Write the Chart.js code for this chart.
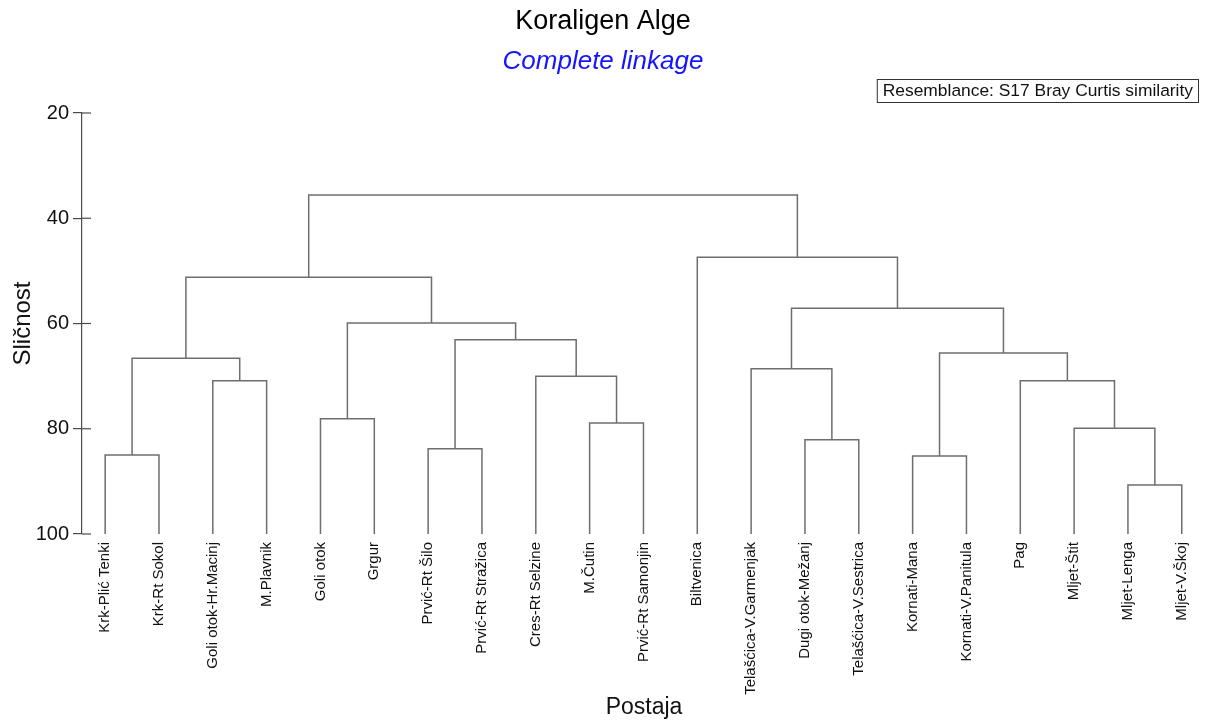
<!DOCTYPE html>
<html>
<head>
<meta charset="utf-8">
<title>Koraligen Alge</title>
<script src="https://cdn.jsdelivr.net/npm/chart.js@4/dist/chart.umd.min.js"></script>
<style>
  html, body { margin: 0; padding: 0; background: #fff; }
  #wrap { width: 1206px; height: 722px; }
</style>
</head>
<body>
<div id="wrap"><canvas id="dendro" width="1206" height="722"></canvas></div>
<script>
// --- data: leaf order, merges (hclust style: negative = leaf, positive = earlier merge row) ---
const leaves = [
  'Krk-Plić Tenki', 'Krk-Rt Sokol', 'Goli otok-Hr.Macinj', 'M.Plavnik', 'Goli otok', 'Grgur',
  'Prvić-Rt Šilo', 'Prvić-Rt Stražica', 'Cres-Rt Selzine', 'M.Čutin', 'Prvić-Rt Samonjin',
  'Biltvenica', 'Telašćica-V.Garmenjak', 'Dugi otok-Mežanj', 'Telašćica-V.Sestrica',
  'Kornati-Mana', 'Kornati-V.Panitula', 'Pag', 'Mljet-Štit', 'Mljet-Lenga', 'Mljet-V.Škoj'
];
const mergeLeft   = [-20, -16, -1, -7, -14, -19, -10, -5, -3, -18, -9, -13, 3, 2, 4, 8, 12, 13, -12, 18];
const mergeRight  = [-21, -17, -2, -8, -15, 1, -11, -6, -4, 6, 7, 5, 9, 10, 11, 15, 14, 16, 17, 19];
const mergeHeight = [90.7, 85.2, 85.0, 83.8, 82.1, 79.9, 78.9, 78.1, 70.9, 70.9, 70.0, 68.6, 66.6, 65.6, 63.1, 59.9, 57.1, 51.2, 47.4, 35.6];
const leafLevel = 100;
const yTicks = [20, 40, 60, 80, 100];

const FONT = "'Liberation Sans', Arial, sans-serif";
const LINE = '#6e6e6e';
const AXIS = '#4a4a4a';

// x position of each merge = middle of its two children
const mergeX = [];
function nodeX(id) { return id < 0 ? -id - 1 : mergeX[id - 1]; }
function nodeH(id) { return id < 0 ? leafLevel : mergeHeight[id - 1]; }

const datasets = [];
for (let i = 0; i < mergeHeight.length; i++) {
  const l = mergeLeft[i], r = mergeRight[i], h = mergeHeight[i];
  const xl = nodeX(l), xr = nodeX(r);
  mergeX.push((xl + xr) / 2);
  datasets.push({
    data: [
      { x: xl, y: nodeH(l) },
      { x: xl, y: h },
      { x: xr, y: h },
      { x: xr, y: nodeH(r) }
    ],
    showLine: true,
    borderColor: LINE,
    borderWidth: 1.5,
    pointRadius: 0,
    tension: 0,
    clip: false
  });
}

// titles, resemblance box, inner half of y ticks
const decorPlugin = {
  id: 'decor',
  afterDraw(chart) {
    const ctx = chart.ctx;
    const w = chart.width;
    ctx.save();
    ctx.textAlign = 'center';
    ctx.textBaseline = 'middle';
    ctx.fillStyle = '#000';
    ctx.font = '27px ' + FONT;
    ctx.fillText('Koraligen Alge', w / 2, 22);
    ctx.fillStyle = '#1414ff';
    ctx.font = 'italic 26px ' + FONT;
    ctx.fillText('Complete linkage', w / 2, 62);

    // resemblance box
    ctx.font = '17.4px ' + FONT;
    const txt = 'Resemblance: S17 Bray Curtis similarity';
    const tw = ctx.measureText(txt).width;
    const bx = 1199 - tw - 12, by = 79.5;
    ctx.fillStyle = '#fff';
    ctx.fillRect(bx, by, tw + 12, 23);
    ctx.strokeStyle = '#333';
    ctx.lineWidth = 1;
    ctx.strokeRect(bx + 0.5, by, tw + 11, 23);
    ctx.fillStyle = '#111';
    ctx.textAlign = 'left';
    ctx.fillText(txt, bx + 6, by + 12);

    // tick marks cross the axis line
    const ys = chart.scales.y;
    const x0 = chart.chartArea.left;
    ctx.strokeStyle = AXIS;
    ctx.lineWidth = 1.2;
    yTicks.forEach(v => {
      const py = ys.getPixelForValue(v);
      ctx.beginPath();
      ctx.moveTo(x0, py);
      ctx.lineTo(x0 + 9, py);
      ctx.stroke();
    });
    ctx.restore();
  }
};

new Chart(document.getElementById('dendro'), {
  type: 'scatter',
  data: { datasets: datasets },
  options: {
    responsive: false,
    animation: false,
    layout: { padding: { top: 113, right: 0, bottom: 0, left: 0 } },
    plugins: {
      legend: { display: false },
      tooltip: { enabled: false }
    },
    scales: {
      x: {
        type: 'linear',
        min: -0.43,
        max: 20.45,
        afterBuildTicks: s => { s.ticks = leaves.map((_, i) => ({ value: i })); },
        afterFit: s => { s.height = 188; },
        grid: { display: false },
        border: { display: false },
        ticks: {
          autoSkip: false,
          maxRotation: 90,
          minRotation: 90,
          padding: 0,
          color: '#111',
          font: { family: FONT, size: 15 },
          callback: v => leaves[v]
        },
        title: {
          display: true,
          text: 'Postaja',
          color: '#111',
          font: { family: FONT, size: 23 },
          padding: { top: 0, bottom: 1 }
        }
      },
      y: {
        type: 'linear',
        reverse: true,
        min: 20,
        max: 100,
        afterBuildTicks: s => { s.ticks = yTicks.map(v => ({ value: v })); },
        afterFit: s => { s.width = 82; },
        grid: { drawOnChartArea: false, drawTicks: true, tickLength: 9, color: AXIS, lineWidth: 1.2 },
        border: { display: true, color: AXIS, width: 1.2 },
        ticks: {
          padding: 4,
          color: '#111',
          font: { family: FONT, size: 20 }
        },
        title: {
          display: true,
          text: 'Sličnost',
          color: '#111',
          font: { family: FONT, size: 24 },
          padding: { top: 9, bottom: 0 }
        }
      }
    }
  },
  plugins: [decorPlugin]
});
</script>
</body>
</html>
